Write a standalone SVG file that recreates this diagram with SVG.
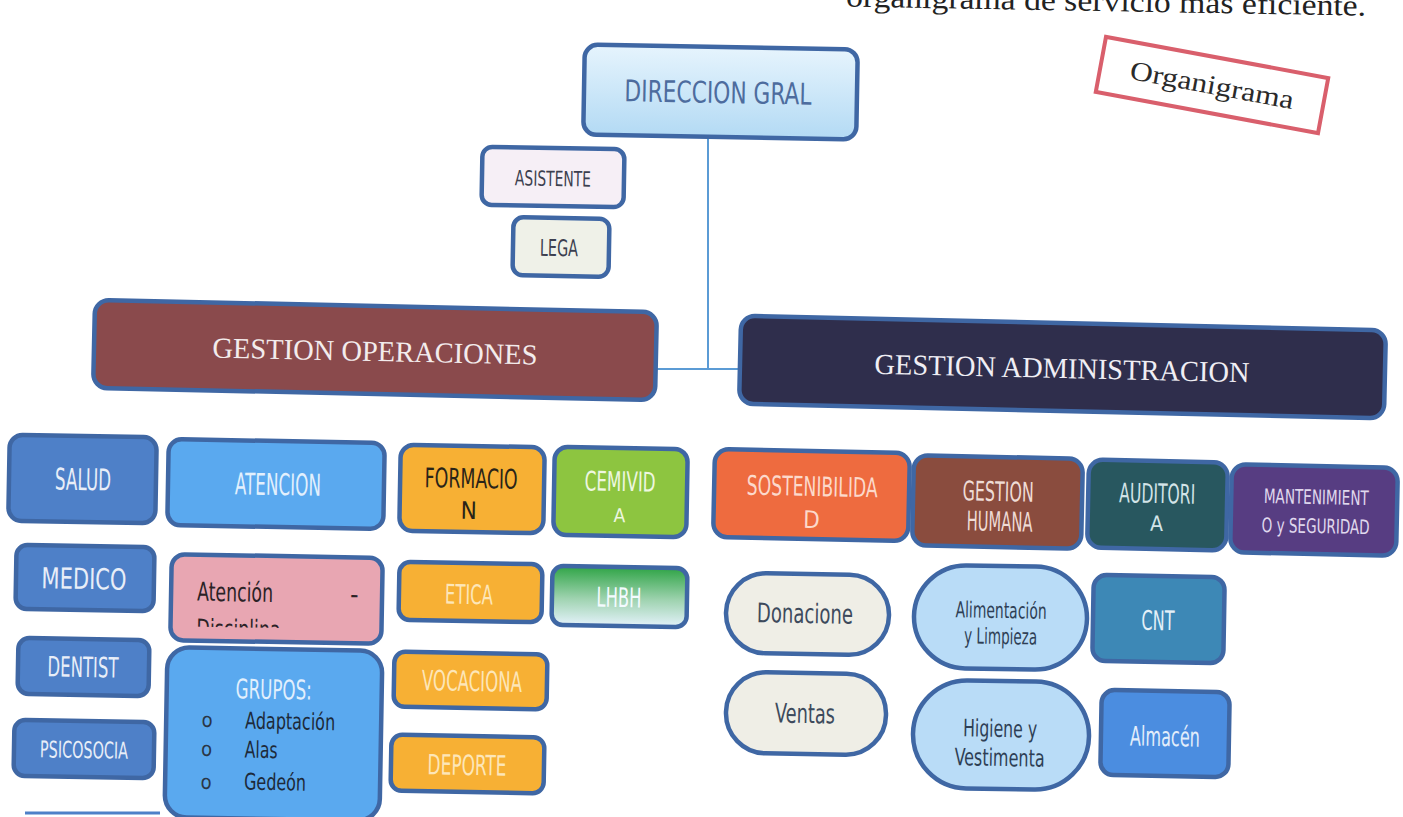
<svg xmlns="http://www.w3.org/2000/svg" width="1403" height="817" viewBox="0 0 1403 817">
<defs>
<linearGradient id="gDir" x1="0" y1="0" x2="0" y2="1"><stop offset="0" stop-color="#e6f4fd"/><stop offset="1" stop-color="#b3daf4"/></linearGradient>
<linearGradient id="gLhbh" x1="0" y1="0" x2="0" y2="1"><stop offset="0" stop-color="#2fa446"/><stop offset="0.55" stop-color="#9fd3b0"/><stop offset="1" stop-color="#e4f2fb"/></linearGradient>
<clipPath id="cDisc"><rect x="160" y="550" width="230" height="78"/></clipPath>
</defs>
<style>
.b{stroke:#3f67a4;stroke-width:4.5}
.ag{font-family:"DejaVu Sans Condensed",Roboto,"Liberation Sans",sans-serif;text-anchor:middle}
.agl{font-family:"DejaVu Sans Condensed",Roboto,"Liberation Sans",sans-serif}
.sf{font-family:"Liberation Serif","DejaVu Serif",serif;text-anchor:middle}
.ln{stroke:#5b9bd5;stroke-width:2;fill:none}
</style>
<rect width="1403" height="817" fill="#ffffff"/>
<text class="sf" x="1366" y="11" font-size="30" fill="#222" style="text-anchor:end" textLength="520" lengthAdjust="spacingAndGlyphs" transform="rotate(1 1100 11)">organigrama de servicio más eficiente.</text>
<g id="stamp" transform="rotate(10.5 1212 85)">
<rect x="1099" y="57" width="226" height="56" fill="#fff" stroke="#d95f6c" stroke-width="4"/>
<text class="sf" x="1212" y="94" font-size="27" fill="#2a2a2a" textLength="166" lengthAdjust="spacingAndGlyphs">Organigrama</text>
</g>
<g id="connectors">
<path class="ln" d="M708 138 V369"/>
<path class="ln" d="M655 369 H741"/>
<path d="M25 813 H160" stroke="#4e80c8" stroke-width="3"/>
</g>
<g id="direccion" transform="rotate(1 720 92)">
<rect class="b" x="584" y="47" width="273" height="90" rx="13" fill="url(#gDir)"/>
<text class="ag" x="718" y="103" font-size="30" fill="#4d6c9e" textLength="187" lengthAdjust="spacingAndGlyphs">DIRECCION GRAL</text>
</g>
<g id="asistente" transform="rotate(1 553 177)">
<rect class="b" x="482" y="148" width="142" height="58" rx="10" fill="#f6eff6"/>
<text class="ag" x="553" y="186" font-size="21" fill="#3c3f4f" textLength="76" lengthAdjust="spacingAndGlyphs">ASISTENTE</text>
</g>
<g id="lega" transform="rotate(1 561 247)">
<rect class="b" x="513" y="218" width="96" height="58" rx="10" fill="#eff1e8"/>
<text class="ag" x="559" y="256" font-size="23" fill="#3c3f4f" textLength="38" lengthAdjust="spacingAndGlyphs">LEGA</text>
</g>
<g id="gop" transform="rotate(1.25 375 350)">
<rect class="b" x="94" y="306" width="562" height="88" rx="14" fill="#8a4a4c"/>
<text class="sf" x="375" y="361" font-size="29" fill="#f3ecec" textLength="325" lengthAdjust="spacingAndGlyphs">GESTION OPERACIONES</text>
</g>
<g id="gadm" transform="rotate(1.3 1062 367)">
<rect class="b" x="740" y="323" width="645" height="88" rx="14" fill="#2f2e4c"/>
<text class="sf" x="1062" y="378" font-size="29" fill="#f0eef4" textLength="375" lengthAdjust="spacingAndGlyphs">GESTION ADMINISTRACION</text>
</g>
<g id="salud" transform="rotate(1 83 479)">
<rect class="b" x="9" y="436" width="147" height="86" rx="13" fill="#4e80c8"/>
<text class="ag" x="83" y="490" font-size="30" fill="#e8eef8" textLength="56" lengthAdjust="spacingAndGlyphs">SALUD</text>
</g>
<g id="atencion" transform="rotate(1 276 484)">
<rect class="b" x="168" y="441" width="216" height="86" rx="13" fill="#5aa9ef"/>
<text class="ag" x="278" y="495" font-size="30" fill="#e2f0fd" textLength="86" lengthAdjust="spacingAndGlyphs">ATENCION</text>
</g>
<g id="formacion" transform="rotate(1 472 489)">
<rect class="b" x="400" y="446" width="144" height="86" rx="13" fill="#f7b034"/>
<text class="ag" x="471" y="488" font-size="27" fill="#2a2418" textLength="93" lengthAdjust="spacingAndGlyphs">FORMACIO</text>
<text class="ag" x="469" y="519" font-size="24" fill="#2a2418">N</text>
</g>
<g id="cemivida" transform="rotate(1 620 492)">
<rect class="b" x="554" y="448" width="133" height="88" rx="13" fill="#8dc540"/>
<text class="ag" x="620" y="491" font-size="27" fill="#eef7e0" textLength="71" lengthAdjust="spacingAndGlyphs">CEMIVID</text>
<text class="ag" x="620" y="522" font-size="19" fill="#eef7e0">A</text>
</g>
<g id="medico" transform="rotate(1 85 578)">
<rect class="b" x="16" y="546" width="138" height="64" rx="11" fill="#4e80c8"/>
<text class="ag" x="84" y="589" font-size="29" fill="#e8eef8" textLength="85" lengthAdjust="spacingAndGlyphs">MEDICO</text>
</g>
<g id="disciplina" transform="rotate(1 276 599)">
<rect class="b" x="171" y="556" width="211" height="86" rx="13" fill="#e8a6b2"/>
<g clip-path="url(#cDisc)">
<text class="agl" x="197" y="602" font-size="26" fill="#2b2226" textLength="76" lengthAdjust="spacingAndGlyphs">Atención</text>
<text class="agl" x="350" y="602" font-size="26" fill="#2b2226">-</text>
<text class="agl" x="197" y="639" font-size="26" fill="#2b2226" textLength="84" lengthAdjust="spacingAndGlyphs">Disciplina</text>
</g>
</g>
<g id="etica" transform="rotate(1 470 592)">
<rect class="b" x="399" y="563" width="143" height="58" rx="11" fill="#f7b034"/>
<text class="ag" x="469" y="604" font-size="27" fill="#fde6b8" textLength="48" lengthAdjust="spacingAndGlyphs">ETICA</text>
</g>
<g id="lhbh" transform="rotate(1 620 596)">
<rect class="b" x="552" y="567" width="135" height="59" rx="11" fill="url(#gLhbh)"/>
<text class="ag" x="619" y="607" font-size="27" fill="#f4fbff" textLength="45" lengthAdjust="spacingAndGlyphs">LHBH</text>
</g>
<g id="dentist" transform="rotate(1 84 666)">
<rect class="b" x="18" y="639" width="131" height="56" rx="11" fill="#4e80c8"/>
<text class="ag" x="83" y="677" font-size="28" fill="#e8eef8" textLength="71" lengthAdjust="spacingAndGlyphs">DENTIST</text>
</g>
<g id="grupos" transform="rotate(1 274 732)">
<rect class="b" x="166" y="649" width="215" height="170" rx="22" fill="#5aa9ef"/>
<text class="ag" x="273" y="699" font-size="27" fill="#e2f0fd" textLength="76" lengthAdjust="spacingAndGlyphs">GRUPOS:</text>
<text class="ag" x="207" y="728" font-size="20" fill="#2a3646">o</text>
<text class="ag" x="207" y="757" font-size="20" fill="#2a3646">o</text>
<text class="ag" x="207" y="790" font-size="20" fill="#2a3646">o</text>
<text class="agl" x="245" y="729" font-size="23" fill="#1d2a3a" textLength="90" lengthAdjust="spacingAndGlyphs">Adaptación</text>
<text class="agl" x="245" y="758" font-size="23" fill="#1d2a3a" textLength="33" lengthAdjust="spacingAndGlyphs">Alas</text>
<text class="agl" x="245" y="790" font-size="23" fill="#1d2a3a" textLength="62" lengthAdjust="spacingAndGlyphs">Gedeón</text>
</g>
<g id="vocacional" transform="rotate(1 471 680)">
<rect class="b" x="394" y="653" width="153" height="55" rx="11" fill="#f7b034"/>
<text class="ag" x="472" y="691" font-size="28" fill="#fde6b8" textLength="100" lengthAdjust="spacingAndGlyphs">VOCACIONA</text>
</g>
<g id="psicosocia" transform="rotate(1 84 749)">
<rect class="b" x="14" y="721" width="140" height="56" rx="11" fill="#4e80c8"/>
<text class="ag" x="84" y="758" font-size="23" fill="#e8eef8" textLength="88" lengthAdjust="spacingAndGlyphs">PSICOSOCIA</text>
</g>
<g id="deporte" transform="rotate(1 468 764)">
<rect class="b" x="391" y="736" width="153" height="56" rx="11" fill="#f7b034"/>
<text class="ag" x="467" y="775" font-size="28" fill="#fde6b8" textLength="79" lengthAdjust="spacingAndGlyphs">DEPORTE</text>
</g>
<g id="sostenibilidad" transform="rotate(1.2 812 495)">
<rect class="b" x="714" y="451" width="195" height="88" rx="14" fill="#ee6b3f"/>
<text class="ag" x="812" y="496" font-size="27" fill="#fcd9cb" textLength="131" lengthAdjust="spacingAndGlyphs">SOSTENIBILIDA</text>
<text class="ag" x="812" y="528" font-size="24" fill="#fcd9cb">D</text>
</g>
<g id="ghumana" transform="rotate(1.2 998 502)">
<rect class="b" x="913" y="457" width="169" height="90" rx="14" fill="#8a4c3e"/>
<text class="ag" x="998" y="501" font-size="27" fill="#efdcd6" textLength="71" lengthAdjust="spacingAndGlyphs">GESTION</text>
<text class="ag" x="1000" y="531" font-size="27" fill="#efdcd6" textLength="66" lengthAdjust="spacingAndGlyphs">HUMANA</text>
</g>
<g id="auditoria" transform="rotate(1.2 1157 505)">
<rect class="b" x="1088" y="461" width="139" height="88" rx="14" fill="#28575f"/>
<text class="ag" x="1157" y="503" font-size="27" fill="#d3e4e8" textLength="76" lengthAdjust="spacingAndGlyphs">AUDITORI</text>
<text class="ag" x="1157" y="531" font-size="21" fill="#d3e4e8">A</text>
</g>
<g id="mantenimiento" transform="rotate(1.2 1314 510)">
<rect class="b" x="1231" y="466" width="166" height="88" rx="14" fill="#573d82"/>
<text class="ag" x="1316" y="504" font-size="20" fill="#e0d9ee" textLength="105" lengthAdjust="spacingAndGlyphs">MANTENIMIENT</text>
<text class="ag" x="1316" y="533" font-size="20" fill="#e0d9ee" textLength="108" lengthAdjust="spacingAndGlyphs">O y SEGURIDAD</text>
</g>
<g id="donaciones" transform="rotate(1 807 614)">
<rect class="b" x="726" y="574" width="163" height="80" rx="40" fill="#efeee6"/>
<text class="ag" x="805" y="623" font-size="27" fill="#3d4a5c" textLength="96" lengthAdjust="spacingAndGlyphs">Donacione</text>
</g>
<g id="alimentacion" transform="rotate(1 1001 617)">
<rect class="b" x="914" y="566" width="173" height="103" rx="52" fill="#b9dcf7"/>
<text class="ag" x="1001" y="618" font-size="22" fill="#2e3f55" textLength="91" lengthAdjust="spacingAndGlyphs">Alimentación</text>
<text class="ag" x="1001" y="644" font-size="22" fill="#2e3f55" textLength="73" lengthAdjust="spacingAndGlyphs">y Limpieza</text>
</g>
<g id="cnt" transform="rotate(1 1158 619)">
<rect class="b" x="1093" y="576" width="131" height="86" rx="13" fill="#3d88b6"/>
<text class="ag" x="1158" y="630" font-size="27" fill="#e3f0f8" textLength="33" lengthAdjust="spacingAndGlyphs">CNT</text>
</g>
<g id="ventas" transform="rotate(1 806 713)">
<rect class="b" x="726" y="673" width="160" height="81" rx="40" fill="#efeee6"/>
<text class="ag" x="805" y="723" font-size="27" fill="#3d4a5c" textLength="60" lengthAdjust="spacingAndGlyphs">Ventas</text>
</g>
<g id="higiene" transform="rotate(1 1001 735)">
<rect class="b" x="913" y="681" width="176" height="108" rx="54" fill="#b9dcf7"/>
<text class="ag" x="1000" y="737" font-size="24" fill="#2e3f55" textLength="74" lengthAdjust="spacingAndGlyphs">Higiene y</text>
<text class="ag" x="1000" y="766" font-size="24" fill="#2e3f55" textLength="90" lengthAdjust="spacingAndGlyphs">Vestimenta</text>
</g>
<g id="almacen" transform="rotate(1 1165 733)">
<rect class="b" x="1101" y="691" width="128" height="85" rx="13" fill="#4b8de0"/>
<text class="ag" x="1165" y="746" font-size="27" fill="#e3eefb" textLength="70" lengthAdjust="spacingAndGlyphs">Almacén</text>
</g>
</svg>
